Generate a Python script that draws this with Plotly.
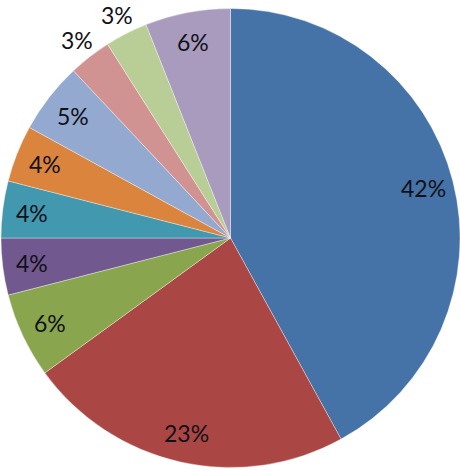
import math
import plotly.graph_objects as go

categories = ["Cat 1", "Cat 2", "Cat 3", "Cat 4", "Cat 5",
              "Cat 6", "Cat 7", "Cat 8", "Cat 9", "Cat 10"]
shares = [42, 23, 6, 4, 4, 4, 5, 3, 3, 6]
colors = ["#4572A7", "#AA4643", "#89A54E", "#71588F", "#4198AF",
          "#DB843D", "#93A9CF", "#D19392", "#B9CD96", "#A99BBD"]
outside = [False] * 7 + [True, True, False]

W, H = 460, 470
margin = dict(l=1, r=0, t=8, b=2)

fig = go.Figure()
fig.add_trace(go.Pie(
    labels=categories, values=shares, sort=False, direction="clockwise",
    rotation=0, textinfo="none",
    marker=dict(colors=colors, line=dict(color="rgba(255,255,255,0.45)", width=0.8)),
    showlegend=False, hoverinfo="label+percent",
))

# percent labels placed along each slice's middle angle, Excel style
pw = W - margin["l"] - margin["r"]
ph = H - margin["t"] - margin["b"]
R = min(pw, ph) / 2
total = sum(shares)
cum = 0
for v, out in zip(shares, outside):
    mid = (cum + v / 2) / total * 2 * math.pi
    cum += v
    rr = R * (1.09 if out else 0.87)
    fig.add_annotation(
        x=0.5 + rr * math.sin(mid) / pw, y=0.5 + rr * math.cos(mid) / ph,
        xref="paper", yref="paper", xanchor="center", yanchor="middle",
        showarrow=False, borderpad=0, text=f"{round(v / total * 100)}%",
        font=dict(family="Lato", size=23, color="#111118"),
    )

fig.update_layout(width=W, height=H, margin=margin,
                  paper_bgcolor="white", plot_bgcolor="white")
# drop the page's default body margin so the chart sits at the window corner
fig.write_html("out.html", config={"displayModeBar": False},
               post_script="document.body.style.margin='0';")
